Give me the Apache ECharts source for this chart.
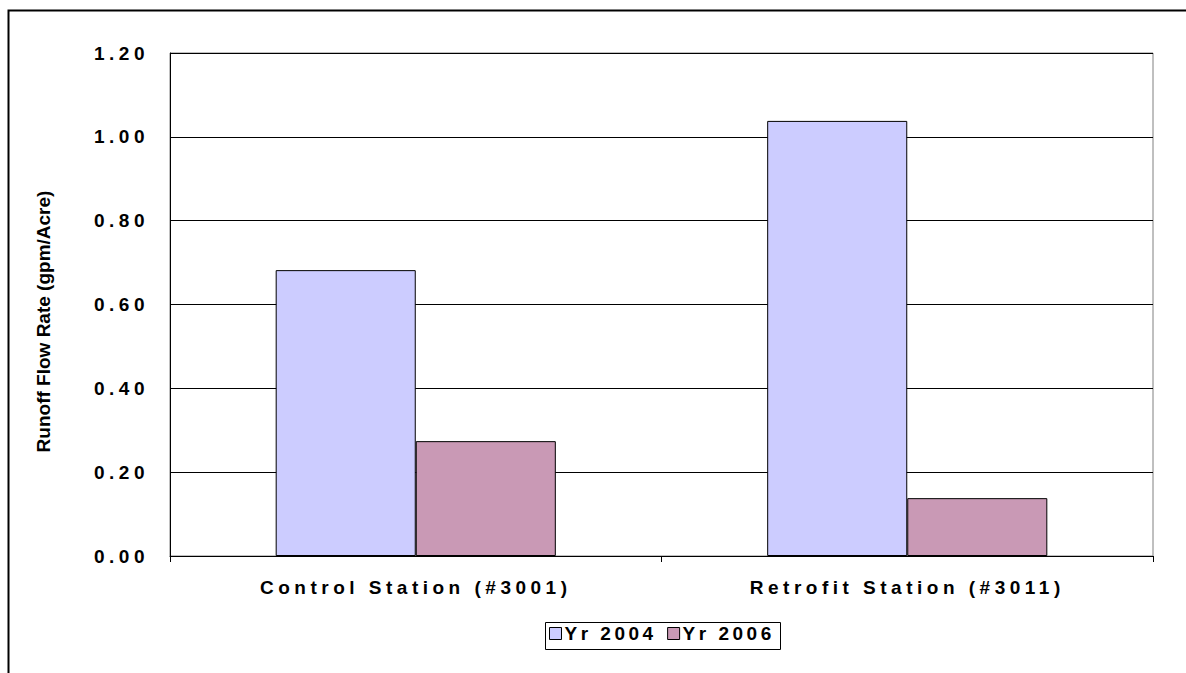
<!DOCTYPE html>
<html>
<head>
<meta charset="utf-8">
<script src="https://cdn.jsdelivr.net/npm/echarts@6/dist/echarts.min.js"></script>
<style>
  html, body { margin: 0; padding: 0; background: #fff; }
  #chart { width: 1186px; height: 673px; }
  #chart text { letter-spacing: 4.5px; }
  #chart text[style*="Helvetica"] { letter-spacing: 3.5px; }
  #chart text[style*="Liberation"] { letter-spacing: 0; }
</style>
</head>
<body>
<div id="chart"></div>
<script>
const categories = ['Control Station (#3001)', 'Retrofit Station (#3011)'];
const seriesNames = ['Yr 2004', 'Yr 2006'];
const yr2004 = [0.682, 1.038];
const yr2006 = [0.274, 0.138];
const yTicks = { min: 0, max: 1.2, interval: 0.2 };
const yAxisTitle = 'Runoff Flow Rate (gpm/Acre)';

const chart = echarts.init(document.getElementById('chart'), null, { renderer: 'svg' });
const labelFont = { fontFamily: 'Arial', fontWeight: 'bold', fontSize: 19, color: '#000' };

chart.setOption({
  animation: false,
  backgroundColor: '#fff',
  graphic: [
    { type: 'rect', left: 6, top: 8, shape: { width: 1300, height: 800 }, style: { fill: 'none', stroke: '#000', lineWidth: 2 }, silent: true },
    { type: 'rect', left: 543, top: 620, shape: { width: 235, height: 27 }, style: { fill: 'none', stroke: '#000', lineWidth: 1 }, silent: true }
  ],
  grid: { left: 170, right: 33, top: 53, bottom: 117, show: true, borderColor: '#808080', borderWidth: 1 },
  legend: {
    data: seriesNames,
    left: 549, top: 624,
    padding: 0,
    itemWidth: 12, itemHeight: 12, itemGap: 35,
    icon: 'rect',
    textStyle: Object.assign({}, labelFont, { fontFamily: 'Helvetica, Arial', padding: [0, 0, 0, -2] }),
    itemStyle: { borderColor: '#000', borderWidth: 1 }
  },
  xAxis: {
    type: 'category',
    data: categories,
    axisLine: { lineStyle: { color: '#000', width: 1 } },
    axisTick: { show: true, length: 6, lineStyle: { color: '#000' } },
    axisLabel: Object.assign({}, labelFont, { margin: 22 }),
    splitLine: { show: false }
  },
  yAxis: {
    type: 'value',
    min: yTicks.min, max: yTicks.max, interval: yTicks.interval,
    name: yAxisTitle,
    nameLocation: 'middle',
    nameGap: 117,
    nameTextStyle: { fontFamily: 'Liberation Sans', fontWeight: 'bold', fontSize: 19, color: '#000', padding: [0, 34, 0, 0] },
    axisLine: { show: true, lineStyle: { color: '#000', width: 1 } },
    axisTick: { show: false },
    axisLabel: Object.assign({}, labelFont, { margin: 21, formatter: v => v.toFixed(2) }),
    splitLine: { lineStyle: { color: '#000', width: 1 } }
  },
  series: [
    {
      name: seriesNames[0], type: 'bar', data: yr2004,
      barGap: '0%', barCategoryGap: '43%',
      itemStyle: { color: '#CCCCFF', borderColor: '#000', borderWidth: 1 }
    },
    {
      name: seriesNames[1], type: 'bar', data: yr2006,
      barGap: '0%', barCategoryGap: '43%',
      itemStyle: { color: '#C999B5', borderColor: '#000', borderWidth: 1 }
    }
  ]
});

function fixSpacing() {
  document.querySelectorAll('#chart text').forEach(t => {
    if (t.textContent.indexOf('Runoff') === 0) t.style.letterSpacing = '0px';
  });
}
fixSpacing();
setTimeout(fixSpacing, 50);
</script>
</body>
</html>
